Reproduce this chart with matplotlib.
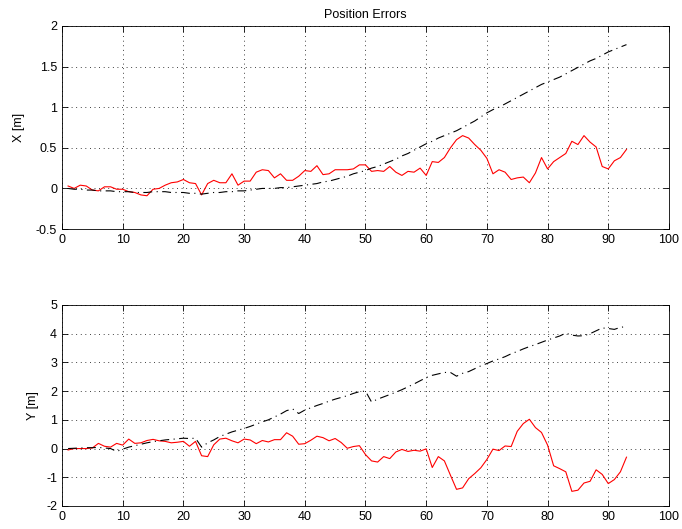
import numpy as np
import matplotlib
matplotlib.use('Agg')
import matplotlib.pyplot as plt

plt.rcParams['font.family'] = ['Liberation Sans', 'DejaVu Sans']
plt.rcParams['axes.unicode_minus'] = False

# sample index 1..93
t = np.arange(1, 94)

# X error, red (estimate)
x_err = [0.03, 0.0, 0.04, 0.03, -0.02, -0.03, 0.02, 0.02, -0.01, -0.01,
         -0.04, -0.05, -0.08, -0.09, -0.01, 0.0, 0.04, 0.07, 0.08, 0.11,
         0.07, 0.06, -0.08, 0.06, 0.1, 0.07, 0.07, 0.18, 0.04, 0.09,
         0.09, 0.2, 0.23, 0.22, 0.13, 0.18, 0.1, 0.1, 0.15, 0.22,
         0.21, 0.28, 0.17, 0.18, 0.23, 0.23, 0.23, 0.24, 0.29, 0.29,
         0.21, 0.22, 0.21, 0.27, 0.2, 0.16, 0.21, 0.2, 0.25, 0.16,
         0.33, 0.32, 0.38, 0.5, 0.6, 0.65, 0.62, 0.54, 0.47, 0.37,
         0.18, 0.23, 0.2, 0.11, 0.13, 0.14, 0.07, 0.19, 0.38, 0.24,
         0.33, 0.38, 0.43, 0.58, 0.54, 0.65, 0.57, 0.51, 0.27, 0.24,
         0.34, 0.38, 0.48]

# X error, black dash-dot
x_ref = [0.0, -0.01, -0.01, -0.02, -0.02, -0.03, -0.03, -0.03, -0.04, -0.04,
         -0.04, -0.05, -0.05, -0.05, -0.04, -0.04, -0.04, -0.05, -0.05, -0.05,
         -0.06, -0.06, -0.07, -0.06, -0.05, -0.05, -0.04, -0.04, -0.03, -0.03,
         -0.02, -0.01, 0.0, 0.0, 0.0, 0.01, 0.01, 0.02, 0.03, 0.04,
         0.05, 0.06, 0.08, 0.09, 0.11, 0.13, 0.15, 0.18, 0.2, 0.22,
         0.25, 0.27, 0.3, 0.33, 0.36, 0.4, 0.43, 0.47, 0.51, 0.55,
         0.58, 0.62, 0.65, 0.68, 0.71, 0.75, 0.79, 0.83, 0.88, 0.93,
         0.97, 1.0, 1.04, 1.08, 1.12, 1.16, 1.2, 1.24, 1.28, 1.31,
         1.34, 1.37, 1.41, 1.45, 1.49, 1.53, 1.57, 1.6, 1.64, 1.68,
         1.71, 1.74, 1.77]

# Y error, red
y_err = [-0.05, 0.0, 0.0, 0.0, 0.02, 0.18, 0.08, 0.05, 0.18, 0.12,
         0.33, 0.18, 0.2, 0.28, 0.32, 0.27, 0.25, 0.2, 0.22, 0.25,
         0.08, 0.25, -0.25, -0.28, 0.13, 0.33, 0.36, 0.27, 0.2, 0.33,
         0.3, 0.17, 0.28, 0.23, 0.31, 0.31, 0.55, 0.43, 0.15, 0.17,
         0.29, 0.43, 0.38, 0.27, 0.35, 0.21, 0.01, 0.07, 0.1, -0.21,
         -0.43, -0.47, -0.28, -0.35, -0.12, -0.03, -0.1, -0.06, -0.09, -0.01,
         -0.66, -0.28, -0.43, -0.93, -1.42, -1.37, -1.05, -0.87, -0.67, -0.38,
         -0.02, -0.07, 0.09, 0.07, 0.6, 0.87, 1.02, 0.73, 0.56, 0.12,
         -0.6, -0.7, -0.81, -1.49, -1.45, -1.2, -1.14, -0.74, -0.9, -1.22,
         -1.08, -0.81, -0.3]

# Y error, black dash-dot
y_ref = [0.0, 0.01, 0.02, 0.03, 0.03, 0.04, 0.02, 0.0, -0.1, -0.02,
         0.05, 0.1, 0.15, 0.2, 0.24, 0.27, 0.3, 0.32, 0.34, 0.36,
         0.35, 0.36, 0.05, 0.2, 0.3, 0.42, 0.5, 0.58, 0.64, 0.7,
         0.77, 0.85, 0.93, 1.0, 1.1, 1.2, 1.32, 1.38, 1.22, 1.34,
         1.42, 1.5, 1.57, 1.65, 1.72, 1.78, 1.84, 1.92, 1.98, 2.0,
         1.62, 1.72, 1.8, 1.88, 1.96, 2.05, 2.15, 2.25, 2.36, 2.47,
         2.55, 2.6, 2.65, 2.65, 2.52, 2.62, 2.68, 2.78, 2.88, 2.96,
         3.05, 3.12, 3.2, 3.3, 3.38, 3.47, 3.55, 3.62, 3.7, 3.78,
         3.85, 3.92, 4.02, 3.95, 3.92, 3.93, 4.0, 4.1, 4.2, 4.18,
         4.15, 4.22, 4.25]

DASHDOT = (0, (8, 4, 1, 4))

fig = plt.figure(figsize=(6.82, 5.29), dpi=100)
ax1 = fig.add_axes([0.0909, 0.567, 0.890, 0.384])
ax2 = fig.add_axes([0.0909, 0.0435, 0.890, 0.380])


def style(ax):
    ax.grid(True, linestyle=(0, (1, 4.5)), color='black', linewidth=0.6)
    ax.tick_params(direction='in', top=True, right=True, labelsize=9, length=4, width=0.6)
    for s in ax.spines.values():
        s.set_linewidth(0.6)
    ax.set_xlim(0, 100)
    ax.set_xticks(np.arange(0, 101, 10))


ax1.plot(t, x_err, color='red', linewidth=0.8)
ax1.plot(t, x_ref, color='black', linestyle=DASHDOT, linewidth=0.8)
style(ax1)
ax1.set_ylim(-0.5, 2)
ax1.set_yticks([-0.5, 0, 0.5, 1, 1.5, 2])
ax1.set_yticklabels(['-0.5', '0', '0.5', '1', '1.5', '2'])
ax1.set_ylabel('X [m]', fontsize=9, labelpad=8)
ax1.set_title('Position Errors', fontsize=9)

ax2.plot(t, y_err, color='red', linewidth=0.8)
ax2.plot(t, y_ref, color='black', linestyle=DASHDOT, linewidth=0.8)
style(ax2)
ax2.set_ylim(-2, 5)
ax2.set_yticks(np.arange(-2, 6, 1))
ax2.set_ylabel('Y [m]', fontsize=9, labelpad=5)

fig.savefig('out.png', dpi=100)
